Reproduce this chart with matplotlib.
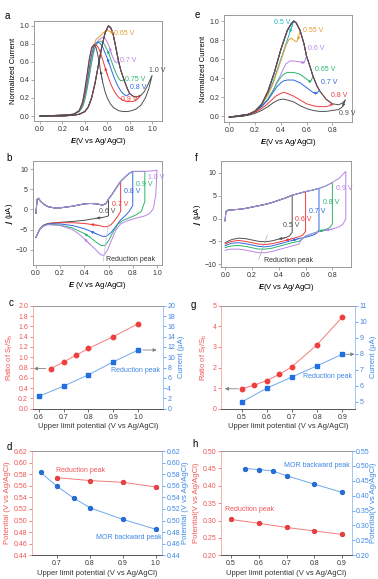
import matplotlib.pyplot as plt
import numpy as np
from matplotlib.ticker import FormatStrFormatter

plt.rcParams['font.family'] = ['Liberation Sans', 'DejaVu Sans']
plt.rcParams['mathtext.fontset'] = 'custom'
plt.rcParams['mathtext.rm'] = 'Liberation Sans'
plt.rcParams['mathtext.it'] = 'Liberation Sans:italic'
plt.rcParams['mathtext.bf'] = 'Liberation Sans:bold'
plt.rcParams['mathtext.bfit'] = 'Liberation Sans:italic:bold'

# ---------------- panel a : normalized MOR curves, catalyst 1 ----------------
a_fwd_E = [0.0, 0.1, 0.2, 0.3, 0.35, 0.4, 0.43, 0.46, 0.49, 0.52, 0.55, 0.58, 0.61, 0.63,
           0.65, 0.67, 0.7, 0.72, 0.75, 0.78, 0.8, 0.83, 0.86, 0.9, 0.93, 0.96, 1.0]
a_fwd_I = [0.0, 0.0, 0.0, 0.01, 0.02, 0.05, 0.1, 0.2, 0.36, 0.56, 0.76, 0.92, 1.0, 0.98,
           0.92, 0.8, 0.61, 0.51, 0.4, 0.3, 0.25, 0.22, 0.21, 0.23, 0.27, 0.34, 0.45]
a_limits = [0.65, 0.7, 0.75, 0.8, 0.9, 1.0]
a_labels = ['0.65 V', '0.7 V', '0.75 V', '0.8 V', '0.9 V', '1.0 V']
a_back_E = [
    [0.65, 0.62, 0.6, 0.58, 0.56, 0.54, 0.52, 0.5, 0.48, 0.46, 0.44, 0.42, 0.4, 0.38, 0.35, 0.3, 0.2, 0.1, 0.0],
    [0.7, 0.68, 0.66, 0.64, 0.62, 0.6, 0.58, 0.56, 0.54, 0.52, 0.5, 0.48, 0.46, 0.44, 0.42, 0.4, 0.38, 0.35, 0.3, 0.2, 0.0],
    [0.75, 0.72, 0.7, 0.68, 0.66, 0.64, 0.62, 0.6, 0.58, 0.56, 0.54, 0.52, 0.5, 0.48, 0.46, 0.44, 0.42, 0.4, 0.38, 0.35, 0.3, 0.2, 0.0],
    [0.8, 0.78, 0.76, 0.74, 0.72, 0.7, 0.68, 0.66, 0.64, 0.62, 0.6, 0.58, 0.56, 0.54, 0.52, 0.5, 0.48, 0.46, 0.44, 0.42, 0.4, 0.38, 0.35, 0.3, 0.2, 0.0],
    [0.9, 0.88, 0.85, 0.82, 0.78, 0.75, 0.72, 0.7, 0.68, 0.66, 0.64, 0.62, 0.6, 0.58, 0.56, 0.54, 0.52, 0.5, 0.48, 0.46, 0.44, 0.42, 0.4, 0.38, 0.35, 0.3, 0.2, 0.0],
    [1.0, 0.97, 0.94, 0.9, 0.86, 0.82, 0.78, 0.74, 0.7, 0.66, 0.63, 0.6, 0.58, 0.56, 0.54, 0.52, 0.5, 0.48, 0.46, 0.44, 0.42, 0.4, 0.38, 0.35, 0.3, 0.2, 0.0],
]
a_back_I = [
    [0.92, 0.94, 0.95, 0.94, 0.92, 0.89, 0.87, 0.85, 0.78, 0.65, 0.5, 0.35, 0.22, 0.13, 0.06, 0.02, 0.01, 0.0, 0.0],
    [0.61, 0.59, 0.62, 0.68, 0.76, 0.82, 0.86, 0.87, 0.86, 0.84, 0.8, 0.72, 0.6, 0.45, 0.32, 0.2, 0.12, 0.05, 0.02, 0.01, 0.0],
    [0.4, 0.39, 0.42, 0.47, 0.53, 0.6, 0.67, 0.73, 0.78, 0.82, 0.83, 0.82, 0.79, 0.72, 0.6, 0.45, 0.3, 0.18, 0.1, 0.05, 0.02, 0.01, 0.0],
    [0.25, 0.23, 0.23, 0.25, 0.28, 0.32, 0.37, 0.43, 0.5, 0.57, 0.64, 0.7, 0.76, 0.8, 0.82, 0.81, 0.77, 0.68, 0.54, 0.38, 0.24, 0.14, 0.06, 0.02, 0.01, 0.0],
    [0.23, 0.2, 0.17, 0.16, 0.16, 0.17, 0.19, 0.21, 0.24, 0.28, 0.33, 0.39, 0.46, 0.54, 0.62, 0.7, 0.76, 0.79, 0.79, 0.74, 0.62, 0.45, 0.28, 0.15, 0.06, 0.02, 0.01, 0.0],
    [0.45, 0.3, 0.2, 0.12, 0.08, 0.06, 0.05, 0.05, 0.06, 0.09, 0.13, 0.2, 0.27, 0.37, 0.5, 0.65, 0.76, 0.79, 0.76, 0.64, 0.47, 0.3, 0.16, 0.06, 0.02, 0.01, 0.0],
]

# ---------------- panel e : normalized MOR curves, catalyst 2 ----------------
e_fwd_E = [0.0, 0.05, 0.1, 0.15, 0.2, 0.25, 0.3, 0.35, 0.4, 0.45, 0.48, 0.5, 0.52, 0.55,
           0.58, 0.6, 0.62, 0.65, 0.68, 0.7, 0.75, 0.8, 0.85, 0.88, 0.9]
e_fwd_I = [-0.01, 0.0, 0.01, 0.02, 0.05, 0.12, 0.26, 0.46, 0.7, 0.9, 0.97, 1.0, 0.98, 0.9,
           0.76, 0.63, 0.55, 0.42, 0.32, 0.27, 0.18, 0.13, 0.12, 0.14, 0.17]
e_limits = [0.5, 0.55, 0.6, 0.65, 0.7, 0.8, 0.9]
e_labels = ['0.5 V', '0.55 V', '0.6 V', '0.65 V', '0.7 V', '0.8 V', '0.9 V']
e_back_E = [
    [0.5, 0.49, 0.47, 0.45, 0.43, 0.4, 0.37, 0.34, 0.3, 0.25, 0.2, 0.15, 0.1, 0.0],
    [0.55, 0.54, 0.53, 0.52, 0.5, 0.48, 0.46, 0.44, 0.42, 0.4, 0.37, 0.34, 0.3, 0.25, 0.2, 0.15, 0.1, 0.0],
    [0.6, 0.58, 0.55, 0.5, 0.47, 0.44, 0.42, 0.4, 0.37, 0.34, 0.3, 0.25, 0.2, 0.15, 0.1, 0.0],
    [0.65, 0.63, 0.61, 0.58, 0.55, 0.5, 0.45, 0.42, 0.4, 0.37, 0.34, 0.3, 0.25, 0.2, 0.15, 0.1, 0.0],
    [0.7, 0.68, 0.65, 0.6, 0.55, 0.5, 0.45, 0.42, 0.4, 0.37, 0.34, 0.3, 0.25, 0.2, 0.15, 0.1, 0.0],
    [0.8, 0.78, 0.75, 0.7, 0.65, 0.6, 0.55, 0.5, 0.45, 0.42, 0.4, 0.36, 0.32, 0.28, 0.25, 0.2, 0.15, 0.1, 0.0],
    [0.9, 0.88, 0.85, 0.8, 0.75, 0.7, 0.65, 0.6, 0.55, 0.5, 0.45, 0.42, 0.38, 0.34, 0.3, 0.25, 0.2, 0.15, 0.1, 0.0],
]
e_back_I = [
    [1.0, 0.96, 0.88, 0.8, 0.72, 0.6, 0.48, 0.36, 0.24, 0.13, 0.06, 0.02, 0.01, -0.01],
    [0.9, 0.84, 0.8, 0.78, 0.8, 0.82, 0.8, 0.74, 0.66, 0.58, 0.46, 0.34, 0.22, 0.12, 0.06, 0.02, 0.01, -0.01],
    [0.63, 0.56, 0.57, 0.58, 0.58, 0.55, 0.5, 0.44, 0.36, 0.27, 0.18, 0.1, 0.05, 0.02, 0.01, -0.01],
    [0.42, 0.36, 0.38, 0.41, 0.44, 0.46, 0.46, 0.44, 0.41, 0.35, 0.27, 0.18, 0.1, 0.05, 0.02, 0.0, -0.01],
    [0.27, 0.24, 0.25, 0.3, 0.35, 0.38, 0.38, 0.37, 0.35, 0.31, 0.25, 0.17, 0.1, 0.05, 0.02, 0.0, -0.01],
    [0.13, 0.11, 0.1, 0.1, 0.11, 0.13, 0.17, 0.21, 0.24, 0.25, 0.24, 0.21, 0.16, 0.11, 0.08, 0.04, 0.02, 0.0, -0.01],
    [0.17, 0.1, 0.07, 0.06, 0.05, 0.05, 0.06, 0.08, 0.11, 0.15, 0.17, 0.18, 0.17, 0.14, 0.1, 0.06, 0.03, 0.01, 0.0, -0.01],
]

# ---------------- panel b : CVs, catalyst 1 ----------------
b_an_E = [0.0, 0.01, 0.02, 0.04, 0.07, 0.1, 0.15, 0.2, 0.3, 0.4, 0.45, 0.5, 0.55, 0.58, 0.6,
          0.63, 0.66, 0.7, 0.74, 0.77, 0.8, 0.85, 0.9, 0.95, 1.0]
b_an_j = [-1.0, 2.5, 2.8, 2.0, 1.2, 0.7, 0.4, 0.4, 0.8, 1.4, 1.5, 1.4, 1.1, 1.5, 2.6,
          3.8, 5.2, 7.0, 8.2, 9.0, 9.5, 9.5, 9.5, 9.6, 9.8]
b_limits = [0.6, 0.7, 0.8, 0.9, 1.0]
b_labels = ['0.6 V', '0.7 V', '0.8 V', '0.9 V', '1.0 V']
b_cat_E = [
    [0.6, 0.6, 0.58, 0.55, 0.5, 0.4, 0.3, 0.2, 0.1, 0.06, 0.03, 0.0],
    [0.7, 0.7, 0.68, 0.65, 0.62, 0.59, 0.56, 0.52, 0.45, 0.4, 0.3, 0.2, 0.1, 0.06, 0.03, 0.0],
    [0.8, 0.8, 0.77, 0.74, 0.7, 0.66, 0.62, 0.58, 0.55, 0.5, 0.45, 0.4, 0.3, 0.2, 0.1, 0.06, 0.03, 0.0],
    [0.9, 0.9, 0.87, 0.83, 0.78, 0.72, 0.68, 0.64, 0.6, 0.57, 0.54, 0.5, 0.45, 0.4, 0.3, 0.2, 0.1, 0.06, 0.03, 0.0],
    [1.0, 0.99, 0.97, 0.94, 0.9, 0.85, 0.8, 0.74, 0.7, 0.66, 0.62, 0.59, 0.56, 0.53, 0.5, 0.45, 0.4, 0.35, 0.3, 0.2, 0.1, 0.06, 0.03, 0.0],
]
b_cat_j = [
    [2.6, -1.6, -1.8, -2.0, -2.2, -2.7, -3.0, -3.2, -3.5, -4.0, -5.0, -7.0],
    [7.0, -0.5, -1.5, -2.8, -3.8, -4.3, -4.3, -4.0, -3.7, -3.5, -3.3, -3.3, -3.5, -4.0, -5.0, -7.0],
    [9.5, 1.0, -0.5, -1.5, -2.6, -4.2, -5.8, -6.7, -6.7, -6.1, -5.4, -4.8, -4.0, -3.6, -3.6, -4.0, -5.0, -7.0],
    [9.5, 2.0, -0.5, -1.3, -2.0, -2.7, -3.6, -5.5, -7.8, -9.0, -9.0, -8.2, -7.0, -6.0, -4.6, -3.9, -3.7, -4.1, -5.0, -7.0],
    [9.8, 3.5, 0.2, -1.0, -1.6, -2.0, -2.4, -3.0, -3.6, -5.2, -8.0, -10.2, -11.5, -11.2, -10.2, -8.8, -7.3, -6.0, -5.0, -4.0, -3.8, -4.2, -5.1, -7.0],
]

# ---------------- panel f : CVs, catalyst 2 ----------------
f_an_E = [0.0, 0.005, 0.02, 0.05, 0.1, 0.15, 0.2, 0.25, 0.3, 0.35, 0.4, 0.45, 0.5, 0.55,
          0.6, 0.65, 0.7, 0.75, 0.8, 0.85, 0.9]
f_an_j = [-0.5, 1.5, 1.8, 1.9, 2.0, 2.2, 2.5, 2.8, 3.1, 3.5, 4.0, 4.5, 5.1, 5.5,
          5.9, 6.2, 6.6, 7.1, 7.9, 8.8, 10.3]
f_limits = [0.5, 0.6, 0.7, 0.8, 0.9]
f_labels = ['0.5 V', '0.6 V', '0.7 V', '0.8 V', '0.9 V']
f_cat_E = [
    [0.5, 0.5, 0.48, 0.45, 0.4, 0.35, 0.3, 0.25, 0.2, 0.15, 0.1, 0.05, 0.02, 0.0],
    [0.6, 0.6, 0.58, 0.55, 0.5, 0.45, 0.4, 0.35, 0.3, 0.25, 0.2, 0.15, 0.1, 0.05, 0.02, 0.0],
    [0.7, 0.7, 0.68, 0.65, 0.6, 0.55, 0.5, 0.45, 0.4, 0.35, 0.3, 0.25, 0.2, 0.15, 0.1, 0.05, 0.02, 0.0],
    [0.8, 0.8, 0.78, 0.75, 0.7, 0.65, 0.6, 0.57, 0.55, 0.5, 0.45, 0.4, 0.35, 0.3, 0.25, 0.2, 0.15, 0.1, 0.05, 0.02, 0.0],
    [0.9, 0.9, 0.88, 0.85, 0.8, 0.75, 0.7, 0.65, 0.6, 0.57, 0.55, 0.5, 0.45, 0.4, 0.35, 0.3, 0.25, 0.2, 0.15, 0.1, 0.05, 0.02, 0.0],
]
f_cat_j = [
    [5.1, -3.0, -3.8, -4.2, -4.5, -4.9, -5.1, -5.0, -4.7, -4.4, -4.3, -4.6, -5.0, -5.3],
    [5.9, -2.8, -3.6, -4.0, -4.4, -4.8, -5.2, -5.5, -5.7, -5.6, -5.3, -5.0, -4.8, -5.0, -5.3, -5.6],
    [6.6, -2.5, -3.3, -3.7, -4.1, -4.4, -4.8, -5.2, -5.6, -6.0, -6.2, -6.1, -5.8, -5.5, -5.3, -5.4, -5.7, -6.0],
    [7.9, -1.2, -2.0, -2.4, -2.8, -3.3, -3.9, -4.6, -5.0, -5.3, -5.7, -6.1, -6.5, -6.7, -6.7, -6.4, -6.1, -5.9, -6.0, -6.2, -6.4],
    [10.3, 0.0, -1.2, -1.8, -2.3, -2.6, -2.9, -3.3, -3.8, -4.6, -5.6, -6.0, -6.4, -6.8, -7.2, -7.5, -7.5, -7.2, -6.9, -6.7, -6.7, -6.8, -7.0],
]

# ---------------- panels c, g : Sf/Sb ratio and reduction peak current ----------------
c_ratio_x = [0.65, 0.7, 0.75, 0.8, 0.9, 1.0]
c_ratio = [0.78, 0.91, 1.04, 1.17, 1.40, 1.65]
c_cur_x = [0.6, 0.7, 0.8, 0.9, 1.0]
c_cur = [2.4, 4.4, 6.6, 9.1, 11.4]

g_ratio_x = [0.5, 0.55, 0.6, 0.65, 0.7, 0.8, 0.9]
g_ratio = [0.97, 1.14, 1.37, 1.67, 2.04, 3.11, 4.45]
g_cur_x = [0.5, 0.6, 0.7, 0.8, 0.9]
g_cur = [4.98, 5.85, 6.55, 7.25, 7.97]

# ---------------- panels d, h : peak potentials ----------------
d_red_x = [0.7, 0.8, 0.9, 1.0]
d_red = [0.574, 0.569, 0.566, 0.558]
d_blue_x = [0.65, 0.7, 0.75, 0.8, 0.9, 1.0]
d_blue = [0.583, 0.559, 0.539, 0.522, 0.502, 0.485]

h_red_x = [0.5, 0.6, 0.7, 0.8, 0.9]
h_red = [0.303, 0.292, 0.280, 0.270, 0.260]
h_blue_x = [0.55, 0.6, 0.65, 0.7, 0.8, 0.9]
h_blue = [0.491, 0.488, 0.483, 0.467, 0.439, 0.411]

# colours
ORANGE = '#E3A032'
PURPLE = '#B983E8'
GREEN = '#2EB36C'
BLUE = '#2F68E3'
RED = '#F0393B'
GRAY = '#505050'
TEAL = '#1DB8C4'
a_colors = [ORANGE, PURPLE, GREEN, BLUE, RED, GRAY]
e_colors = [TEAL, ORANGE, PURPLE, GREEN, BLUE, RED, GRAY]
b_colors = [GRAY, RED, BLUE, GREEN, PURPLE]

R_MARK, R_LINE, R_SPINE, R_TXT = '#F03E3E', '#F47C7C', '#F4A3A3', '#F05555'
B_MARK, B_LINE, B_SPINE, B_TXT = '#1F6FE3', '#6FA8EC', '#94BDF1', '#3D86E8'

TICK = 5
LAB = 5.5


def style_box(ax):
    for s in ax.spines.values():
        s.set_color('#8c8c8c')
        s.set_linewidth(0.6)
    ax.tick_params(labelsize=TICK, length=2, width=0.5, pad=1.5, color='#8c8c8c', labelcolor='#333333')


def arrow(ax, xs, ys, k, color):
    ax.annotate('', xy=(xs[k + 1], ys[k + 1]), xytext=(xs[k], ys[k]),
                arrowprops=dict(arrowstyle='-|>', color=color, lw=0.5, mutation_scale=4,
                                shrinkA=0, shrinkB=0))


def upto(E, lim):
    return int(np.argmin(np.abs(np.array(E) - lim))) + 1


fig = plt.figure(figsize=(3.78, 5.79), dpi=100)

# ---- a ----
ax = fig.add_axes([0.090, 0.791, 0.339, 0.173])
style_box(ax)
a_arrows = [0, 3, 6, 9, 12, 13]
for lim, col, bE, bI, k in zip(a_limits, a_colors, a_back_E, a_back_I, a_arrows):
    n = upto(a_fwd_E, lim)
    ax.plot(a_fwd_E[:n] + bE, a_fwd_I[:n] + bI, color=col, lw=0.7)
    arrow(ax, bE, bI, k, col)
a_lab_xy = [(0.66, 0.91), (0.71, 0.62), (0.76, 0.41), (0.80, 0.32), (0.72, 0.18), (0.97, 0.51)]
for (x, y), t, col in zip(a_lab_xy, a_labels, a_colors):
    ax.text(x, y, t, color=col, fontsize=TICK, va='center', ha='left')
ax.set_xlim(-0.054, 1.09)
ax.set_ylim(-0.055, 1.055)
ax.set_xticks(np.arange(0, 1.01, 0.2))
ax.set_yticks(np.arange(0, 1.01, 0.2))
ax.xaxis.set_major_formatter(FormatStrFormatter('%.1f'))
ax.yaxis.set_major_formatter(FormatStrFormatter('%.1f'))
ax.set_xlabel(r'$\mathbfit{E}$(V vs Ag/AgCl)', fontsize=LAB, labelpad=2)
ax.set_ylabel('Normalized Current', fontsize=LAB, labelpad=2)

# ---- e ----
ax = fig.add_axes([0.593, 0.789, 0.339, 0.185])
style_box(ax)
e_arrows = [1, 1, 1, 1, 1, 0, 0]
for lim, col, bE, bI, k in zip(e_limits, e_colors, e_back_E, e_back_I, e_arrows):
    n = upto(e_fwd_E, lim)
    ax.plot(e_fwd_E[:n] + bE, e_fwd_I[:n] + bI, color=col, lw=0.7)
    arrow(ax, bE, bI, k, col)
e_lab_xy = [(0.35, 0.98), (0.575, 0.90), (0.61, 0.71), (0.665, 0.49), (0.71, 0.35), (0.79, 0.22), (0.85, 0.03)]
for (x, y), t, col in zip(e_lab_xy, e_labels, e_colors):
    ax.text(x, y, t, color=col, fontsize=TICK, va='center', ha='left')
ax.set_xlim(-0.04, 0.955)
ax.set_ylim(-0.063, 1.063)
ax.set_xticks(np.arange(0, 0.81, 0.2))
ax.set_yticks(np.arange(0, 1.01, 0.2))
ax.xaxis.set_major_formatter(FormatStrFormatter('%.1f'))
ax.yaxis.set_major_formatter(FormatStrFormatter('%.1f'))
ax.set_xlabel(r'$\mathbfit{E}$(V vs Ag/AgCl)', fontsize=LAB, labelpad=2)
ax.set_ylabel('Normalized Current', fontsize=LAB, labelpad=2)

# ---- b ----
ax = fig.add_axes([0.087, 0.542, 0.341, 0.180])
style_box(ax)
b_arrows = [3, 7, 9, 12, 15]
for lim, col, cE, cj, k in zip(b_limits, b_colors, b_cat_E, b_cat_j, b_arrows):
    n = upto(b_an_E, lim)
    ax.plot(b_an_E[:n] + cE, b_an_j[:n] + cj, color=col, lw=0.7)
    arrow(ax, cE, cj, k, col)
b_lab_xy = [(0.52, -0.6), (0.63, 1.3), (0.73, 4.4), (0.83, 6.3), (0.93, 8.0)]
for (x, y), t, col in zip(b_lab_xy, b_labels, b_colors):
    ax.text(x, y, t, color=col, fontsize=TICK, va='center', ha='left')
ax.plot([0.555, 0.60], [-13.0, -3.5], color='#c8c8c8', lw=0.5)
ax.text(0.58, -12.5, 'Reduction peak', fontsize=TICK, color='#333333', va='center', ha='left')
ax.set_xlim(-0.025, 1.04)
ax.set_ylim(-13.9, 12.1)
ax.set_xticks(np.arange(0, 1.01, 0.2))
ax.set_yticks([-10, -5, 0, 5, 10])
ax.xaxis.set_major_formatter(FormatStrFormatter('%.1f'))
ax.set_xlabel(r'$\mathbfit{E}$ (V vs Ag/AgCl)', fontsize=LAB, labelpad=2)
ax.set_ylabel(r'$\mathbfit{j}$ (μA)', fontsize=LAB, labelpad=1)

# ---- f ----
ax = fig.add_axes([0.585, 0.539, 0.344, 0.183])
style_box(ax)
f_arrows = [3, 4, 5, 3, 4]
for lim, col, cE, cj, k in zip(f_limits, b_colors, f_cat_E, f_cat_j, f_arrows):
    n = upto(f_an_E, lim)
    ax.plot(f_an_E[:n] + cE, f_an_j[:n] + cj, color=col, lw=0.7)
    arrow(ax, cE, cj, k, col)
f_lab_xy = [(0.43, -1.6), (0.52, -0.3), (0.625, 1.5), (0.73, 3.6), (0.83, 6.6)]
for (x, y), t, col in zip(f_lab_xy, f_labels, b_colors):
    ax.text(x, y, t, color=col, fontsize=TICK, va='center', ha='left')
ax.plot([0.25, 0.315], [-9.0, -3.6], color='#b0b0b0', lw=0.5)
ax.text(0.29, -9.2, 'Reduction peak', fontsize=TICK, color='#333333', va='center', ha='left')
ax.set_xlim(-0.03, 0.94)
ax.set_ylim(-10.6, 12.6)
ax.set_xticks(np.arange(0, 0.81, 0.2))
ax.set_yticks([-10, -5, 0, 5, 10])
ax.xaxis.set_major_formatter(FormatStrFormatter('%.1f'))
ax.set_xlabel(r'$\mathbfit{E}$(V vs Ag/AgCl)', fontsize=LAB, labelpad=2)
ax.set_ylabel(r'$\mathbfit{j}$ (μA)', fontsize=LAB, labelpad=1)


def twin_style(ax, ax2):
    ax.spines['right'].set_visible(False)
    ax2.spines['left'].set_visible(False)
    for a in (ax, ax2):
        a.spines['top'].set_color('#9a9a9a')
        a.spines['bottom'].set_color('#555555')
        for s in a.spines.values():
            s.set_linewidth(0.6)
    ax.spines['left'].set_color(R_SPINE)
    ax2.spines['right'].set_color(B_SPINE)
    ax.tick_params(axis='x', labelsize=TICK, length=2, width=0.5, pad=1.5, colors='#333333')
    ax.tick_params(axis='y', labelsize=TICK, length=2, width=0.5, pad=1.5, colors=R_TXT)
    ax2.tick_params(axis='y', labelsize=TICK, length=2, width=0.5, pad=1.2, colors=B_TXT)


def gray_arrow(ax, x0, x1, y):
    ax.annotate('', xy=(x1, y), xytext=(x0, y),
                arrowprops=dict(arrowstyle='-|>', color='#808080', lw=0.6, mutation_scale=5,
                                shrinkA=0, shrinkB=0))


# ---- c ----
ax = fig.add_axes([0.087, 0.294, 0.344, 0.178])
ax2 = ax.twinx()
ax.plot(c_ratio_x, c_ratio, color=R_LINE, lw=0.7, marker='o', ms=3.2, mfc=R_MARK, mec=R_MARK)
ax2.plot(c_cur_x, c_cur, color=B_LINE, lw=0.7, marker='s', ms=2.8, mfc=B_MARK, mec=B_MARK)
ax.set_xlim(0.576, 1.10)
ax.set_ylim(0, 2)
ax2.set_ylim(0, 20)
ax.set_xticks([0.6, 0.7, 0.8, 0.9, 1.0])
ax.set_yticks(np.arange(0, 2.01, 0.2))
ax2.set_yticks(range(0, 21, 2))
ax.xaxis.set_major_formatter(FormatStrFormatter('%.1f'))
ax.yaxis.set_major_formatter(FormatStrFormatter('%.1f'))
twin_style(ax, ax2)
gray_arrow(ax, 0.628, 0.58, c_ratio[0])
gray_arrow(ax2, 1.019, 1.075, c_cur[-1])
ax2.text(0.99, 7.4, 'Reduction peak', color=B_TXT, fontsize=TICK, ha='center', va='center')
ax.set_xlabel('Upper limit potential (V vs Ag/AgCl)', fontsize=LAB, color='#333333', labelpad=2)
ax.set_ylabel(r'Ratio of S$_\mathrm{f}$/S$_\mathrm{b}$', fontsize=LAB, color=R_TXT, labelpad=2)
ax2.set_ylabel('Current (μA)', fontsize=LAB, color=B_TXT, labelpad=2)

# ---- g ----
ax = fig.add_axes([0.585, 0.294, 0.354, 0.178])
ax2 = ax.twinx()
ax.plot(g_ratio_x, g_ratio, color=R_LINE, lw=0.7, marker='o', ms=3.2, mfc=R_MARK, mec=R_MARK)
ax2.plot(g_cur_x, g_cur, color=B_LINE, lw=0.7, marker='s', ms=2.8, mfc=B_MARK, mec=B_MARK)
ax.set_xlim(0.419, 0.95)
ax.set_ylim(0, 5)
ax2.set_ylim(4.565, 11)
ax.set_xticks([0.5, 0.6, 0.7, 0.8, 0.9])
ax.set_yticks(range(0, 6))
ax2.set_yticks(range(5, 12))
ax.xaxis.set_major_formatter(FormatStrFormatter('%.1f'))
twin_style(ax, ax2)
gray_arrow(ax, 0.487, 0.434, g_ratio[0])
gray_arrow(ax2, 0.913, 0.948, g_cur[-1])
ax2.text(0.84, 6.55, 'Reduction peak', color=B_TXT, fontsize=TICK, ha='center', va='center')
ax.set_xlabel('Upper limit potential (V vs Ag/AgCl)', fontsize=LAB, color='#333333', labelpad=2)
ax.set_ylabel(r'Ratio of S$_\mathrm{f}$/S$_\mathrm{b}$', fontsize=LAB, color=R_TXT, labelpad=2)
ax2.set_ylabel('Current (μA)', fontsize=LAB, color=B_TXT, labelpad=2)

# ---- d ----
ax = fig.add_axes([0.085, 0.041, 0.344, 0.180])
ax2 = ax.twinx()
ax.plot(d_red_x, d_red, color=R_LINE, lw=0.7, marker='o', ms=3.4, mfc=R_MARK, mec='#C82828', mew=0.4)
ax2.plot(d_blue_x, d_blue, color=B_LINE, lw=0.7, marker='o', ms=3.4, mfc=B_MARK, mec='#1450B0', mew=0.4)
ax.set_xlim(0.624, 1.02)
ax.set_ylim(0.44, 0.62)
ax2.set_ylim(0.44, 0.62)
ax.set_xticks([0.7, 0.8, 0.9, 1.0])
ax.set_yticks(np.arange(0.44, 0.621, 0.02))
ax2.set_yticks(np.arange(0.44, 0.621, 0.02))
ax.xaxis.set_major_formatter(FormatStrFormatter('%.1f'))
ax.yaxis.set_major_formatter(FormatStrFormatter('%.2f'))
ax2.yaxis.set_major_formatter(FormatStrFormatter('%.2f'))
twin_style(ax, ax2)
ax.text(0.77, 0.587, 'Reduction peak', color=R_TXT, fontsize=TICK, ha='center', va='center')
ax.text(0.918, 0.471, 'MOR backward peak', color=B_TXT, fontsize=TICK, ha='center', va='center')
ax.set_xlabel('Upper limit potential (V vs Ag/AgCl)', fontsize=LAB, color='#333333', labelpad=2)
ax.set_ylabel('Potential (V vs Ag/AgCl)', fontsize=LAB, color=R_TXT, labelpad=2)
ax2.set_ylabel('Potential (V vs Ag/AgCl)', fontsize=LAB, color=B_TXT, labelpad=1)

# ---- h ----
ax = fig.add_axes([0.585, 0.041, 0.345, 0.180])
ax2 = ax.twinx()
ax.plot(h_red_x, h_red, color=R_LINE, lw=0.7, marker='o', ms=3.4, mfc=R_MARK, mec='#C82828', mew=0.4)
ax2.plot(h_blue_x, h_blue, color=B_LINE, lw=0.7, marker='o', ms=3.4, mfc=B_MARK, mec='#1450B0', mew=0.4)
ax.set_xlim(0.464, 0.934)
ax.set_ylim(0.2, 0.5)
ax2.set_ylim(0.2, 0.55)
ax.set_xticks([0.5, 0.6, 0.7, 0.8, 0.9])
ax.set_yticks(np.arange(0.2, 0.501, 0.05))
ax2.set_yticks(np.arange(0.2, 0.551, 0.05))
ax.xaxis.set_major_formatter(FormatStrFormatter('%.1f'))
ax.yaxis.set_major_formatter(FormatStrFormatter('%.2f'))
ax2.yaxis.set_major_formatter(FormatStrFormatter('%.2f'))
twin_style(ax, ax2)
ax.text(0.81, 0.457, 'MOR backward peak', color=B_TXT, fontsize=TICK, ha='center', va='center')
ax.text(0.567, 0.333, 'Reduction peak', color=R_TXT, fontsize=TICK, ha='center', va='center')
ax.set_xlabel('Upper limit potential (V vs Ag/AgCl)', fontsize=LAB, color='#333333', labelpad=2)
ax.set_ylabel('Potential(V vs Ag/AgCl)', fontsize=LAB, color=R_TXT, labelpad=2)
ax2.set_ylabel('Potential(V vs Ag/AgCl)', fontsize=LAB, color=B_TXT, labelpad=0.5)

# panel letters
for t, x, y in [('a', 5, 16), ('e', 195, 15), ('b', 6, 158), ('f', 195, 158),
                ('c', 9, 303), ('g', 191, 305), ('d', 7, 447), ('h', 192, 444)]:
    fig.text(x / 378, 1 - y / 579, t, fontsize=7, ha='left', va='center')

fig.savefig('out.png', dpi=100)
